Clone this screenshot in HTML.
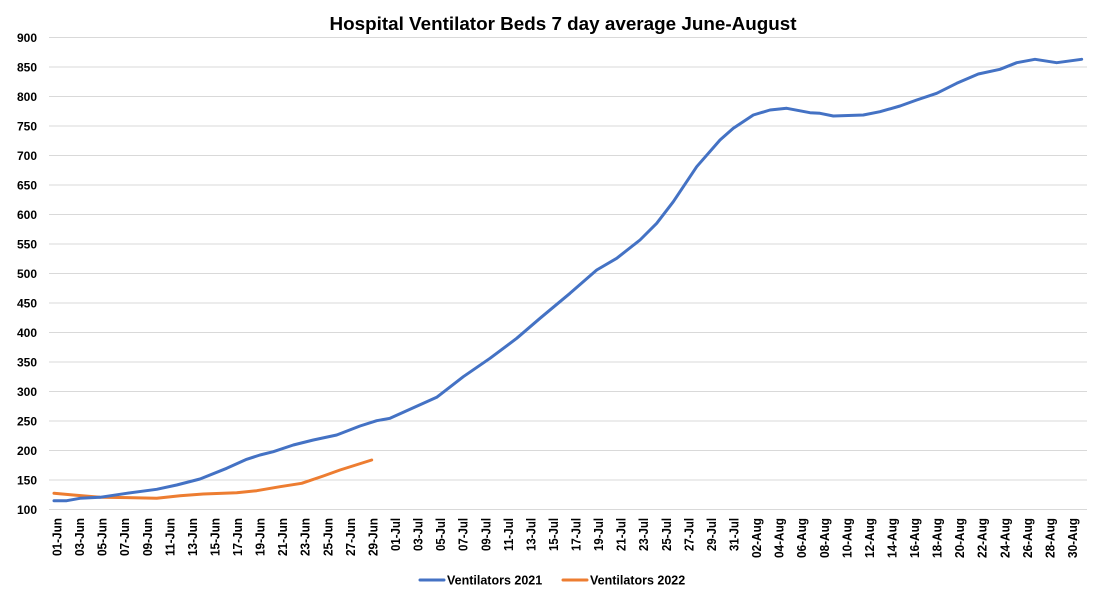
<!DOCTYPE html>
<html>
<head>
<meta charset="utf-8">
<style>
html,body{margin:0;padding:0;background:#fff;}
svg{display:block;}
text{font-family:"Liberation Sans",Arial,sans-serif;font-weight:bold;fill:#000;}
</style>
</head>
<body>
<svg width="1103" height="600" viewBox="0 0 1103 600" xmlns="http://www.w3.org/2000/svg">
<rect width="1103" height="600" fill="#fff"/>
<text x="563" y="30" font-size="18.5" text-anchor="middle" textLength="467" lengthAdjust="spacingAndGlyphs">Hospital Ventilator Beds 7 day average June-August</text>
<g stroke="#d9d9d9" stroke-width="1">
<line x1="49" x2="1087" y1="37.5" y2="37.5"/>
<line x1="49" x2="1087" y1="67" y2="67"/>
<line x1="49" x2="1087" y1="96.5" y2="96.5"/>
<line x1="49" x2="1087" y1="126" y2="126"/>
<line x1="49" x2="1087" y1="155.5" y2="155.5"/>
<line x1="49" x2="1087" y1="185" y2="185"/>
<line x1="49" x2="1087" y1="214.5" y2="214.5"/>
<line x1="49" x2="1087" y1="244" y2="244"/>
<line x1="49" x2="1087" y1="273.5" y2="273.5"/>
<line x1="49" x2="1087" y1="303" y2="303"/>
<line x1="49" x2="1087" y1="332.5" y2="332.5"/>
<line x1="49" x2="1087" y1="362" y2="362"/>
<line x1="49" x2="1087" y1="391.5" y2="391.5"/>
<line x1="49" x2="1087" y1="421" y2="421"/>
<line x1="49" x2="1087" y1="450.5" y2="450.5"/>
<line x1="49" x2="1087" y1="480" y2="480"/>
<line x1="49" x2="1087" y1="509.5" y2="509.5"/>
</g>
<g font-size="12" text-anchor="end">
<text x="37" y="41.8">900</text>
<text x="37" y="71.3">850</text>
<text x="37" y="100.8">800</text>
<text x="37" y="130.3">750</text>
<text x="37" y="159.8">700</text>
<text x="37" y="189.3">650</text>
<text x="37" y="218.8">600</text>
<text x="37" y="248.3">550</text>
<text x="37" y="277.8">500</text>
<text x="37" y="307.3">450</text>
<text x="37" y="336.8">400</text>
<text x="37" y="366.3">350</text>
<text x="37" y="395.8">300</text>
<text x="37" y="425.3">250</text>
<text x="37" y="454.8">200</text>
<text x="37" y="484.3">150</text>
<text x="37" y="513.8">100</text>
</g>
<polyline fill="none" stroke="#ED7D31" stroke-width="3" stroke-linejoin="round" stroke-linecap="round" points="54,493.3 73.3,495 100,497.3 133.3,497.7 156.7,498.3 180,495.7 203.3,494 236.7,492.7 256.7,490.7 280,486.7 301.7,483.3 323.3,476 340,470 371.7,460"/>
<polyline fill="none" stroke="#4472C4" stroke-width="3" stroke-linejoin="round" stroke-linecap="round" points="54,500.7 66.7,500.7 80,498.3 100,497.3 126.7,493.3 156.7,489.3 176.7,485 200,479 226.7,468.3 246.7,459.3 260,455 273.3,451.7 293.3,445 313.3,440 336.7,435 360,426 376.7,420.7 390,418.3 436.7,397.3 463.3,376.7 490,358.3 516.7,338.3 540,318.3 570,293.3 596.7,270 616.7,258.3 640,240 656.7,223.3 673.3,201.7 696.7,166.7 720,140 733.3,128.3 753.3,115 770,110 786.7,108.3 810,112.7 820,113.3 833.3,116 863.3,115 880,111.7 900,106 916.7,100 936.7,93.3 956.7,83.3 978.3,74 1000,69.3 1016.7,62.7 1035,59.3 1056.7,62.7 1081.7,59.3"/>
<line x1="420" x2="444" y1="580" y2="580" stroke="#4472C4" stroke-width="3" stroke-linecap="round"/>
<text x="447" y="584.5" font-size="12.5">Ventilators 2021</text>
<line x1="563" x2="587" y1="580" y2="580" stroke="#ED7D31" stroke-width="3" stroke-linecap="round"/>
<text x="590" y="584.5" font-size="12.5">Ventilators 2022</text>
<g font-size="13" text-anchor="end">
<text transform="translate(61.5,518) rotate(-90)" textLength="38" lengthAdjust="spacingAndGlyphs">01-Jun</text>
<text transform="translate(84.1,518) rotate(-90)" textLength="38" lengthAdjust="spacingAndGlyphs">03-Jun</text>
<text transform="translate(106.6,518) rotate(-90)" textLength="38" lengthAdjust="spacingAndGlyphs">05-Jun</text>
<text transform="translate(129.2,518) rotate(-90)" textLength="38" lengthAdjust="spacingAndGlyphs">07-Jun</text>
<text transform="translate(151.8,518) rotate(-90)" textLength="38" lengthAdjust="spacingAndGlyphs">09-Jun</text>
<text transform="translate(174.3,518) rotate(-90)" textLength="38" lengthAdjust="spacingAndGlyphs">11-Jun</text>
<text transform="translate(196.9,518) rotate(-90)" textLength="38" lengthAdjust="spacingAndGlyphs">13-Jun</text>
<text transform="translate(219.5,518) rotate(-90)" textLength="38" lengthAdjust="spacingAndGlyphs">15-Jun</text>
<text transform="translate(242,518) rotate(-90)" textLength="38" lengthAdjust="spacingAndGlyphs">17-Jun</text>
<text transform="translate(264.6,518) rotate(-90)" textLength="38" lengthAdjust="spacingAndGlyphs">19-Jun</text>
<text transform="translate(287.2,518) rotate(-90)" textLength="38" lengthAdjust="spacingAndGlyphs">21-Jun</text>
<text transform="translate(309.7,518) rotate(-90)" textLength="38" lengthAdjust="spacingAndGlyphs">23-Jun</text>
<text transform="translate(332.3,518) rotate(-90)" textLength="38" lengthAdjust="spacingAndGlyphs">25-Jun</text>
<text transform="translate(354.9,518) rotate(-90)" textLength="38" lengthAdjust="spacingAndGlyphs">27-Jun</text>
<text transform="translate(377.4,518) rotate(-90)" textLength="38" lengthAdjust="spacingAndGlyphs">29-Jun</text>
<text transform="translate(400,518) rotate(-90)" textLength="33" lengthAdjust="spacingAndGlyphs">01-Jul</text>
<text transform="translate(422.6,518) rotate(-90)" textLength="33" lengthAdjust="spacingAndGlyphs">03-Jul</text>
<text transform="translate(445.1,518) rotate(-90)" textLength="33" lengthAdjust="spacingAndGlyphs">05-Jul</text>
<text transform="translate(467.7,518) rotate(-90)" textLength="33" lengthAdjust="spacingAndGlyphs">07-Jul</text>
<text transform="translate(490.3,518) rotate(-90)" textLength="33" lengthAdjust="spacingAndGlyphs">09-Jul</text>
<text transform="translate(512.8,518) rotate(-90)" textLength="33" lengthAdjust="spacingAndGlyphs">11-Jul</text>
<text transform="translate(535.4,518) rotate(-90)" textLength="33" lengthAdjust="spacingAndGlyphs">13-Jul</text>
<text transform="translate(558,518) rotate(-90)" textLength="33" lengthAdjust="spacingAndGlyphs">15-Jul</text>
<text transform="translate(580.5,518) rotate(-90)" textLength="33" lengthAdjust="spacingAndGlyphs">17-Jul</text>
<text transform="translate(603.1,518) rotate(-90)" textLength="33" lengthAdjust="spacingAndGlyphs">19-Jul</text>
<text transform="translate(625.7,518) rotate(-90)" textLength="33" lengthAdjust="spacingAndGlyphs">21-Jul</text>
<text transform="translate(648.2,518) rotate(-90)" textLength="33" lengthAdjust="spacingAndGlyphs">23-Jul</text>
<text transform="translate(670.8,518) rotate(-90)" textLength="33" lengthAdjust="spacingAndGlyphs">25-Jul</text>
<text transform="translate(693.4,518) rotate(-90)" textLength="33" lengthAdjust="spacingAndGlyphs">27-Jul</text>
<text transform="translate(715.9,518) rotate(-90)" textLength="33" lengthAdjust="spacingAndGlyphs">29-Jul</text>
<text transform="translate(738.5,518) rotate(-90)" textLength="33" lengthAdjust="spacingAndGlyphs">31-Jul</text>
<text transform="translate(761.1,518) rotate(-90)" textLength="40" lengthAdjust="spacingAndGlyphs">02-Aug</text>
<text transform="translate(783.6,518) rotate(-90)" textLength="40" lengthAdjust="spacingAndGlyphs">04-Aug</text>
<text transform="translate(806.2,518) rotate(-90)" textLength="40" lengthAdjust="spacingAndGlyphs">06-Aug</text>
<text transform="translate(828.8,518) rotate(-90)" textLength="40" lengthAdjust="spacingAndGlyphs">08-Aug</text>
<text transform="translate(851.3,518) rotate(-90)" textLength="40" lengthAdjust="spacingAndGlyphs">10-Aug</text>
<text transform="translate(873.9,518) rotate(-90)" textLength="40" lengthAdjust="spacingAndGlyphs">12-Aug</text>
<text transform="translate(896.5,518) rotate(-90)" textLength="40" lengthAdjust="spacingAndGlyphs">14-Aug</text>
<text transform="translate(919,518) rotate(-90)" textLength="40" lengthAdjust="spacingAndGlyphs">16-Aug</text>
<text transform="translate(941.6,518) rotate(-90)" textLength="40" lengthAdjust="spacingAndGlyphs">18-Aug</text>
<text transform="translate(964.2,518) rotate(-90)" textLength="40" lengthAdjust="spacingAndGlyphs">20-Aug</text>
<text transform="translate(986.7,518) rotate(-90)" textLength="40" lengthAdjust="spacingAndGlyphs">22-Aug</text>
<text transform="translate(1009.3,518) rotate(-90)" textLength="40" lengthAdjust="spacingAndGlyphs">24-Aug</text>
<text transform="translate(1031.9,518) rotate(-90)" textLength="40" lengthAdjust="spacingAndGlyphs">26-Aug</text>
<text transform="translate(1054.4,518) rotate(-90)" textLength="40" lengthAdjust="spacingAndGlyphs">28-Aug</text>
<text transform="translate(1077,518) rotate(-90)" textLength="40" lengthAdjust="spacingAndGlyphs">30-Aug</text>
</g>
</svg>
</body>
</html>
